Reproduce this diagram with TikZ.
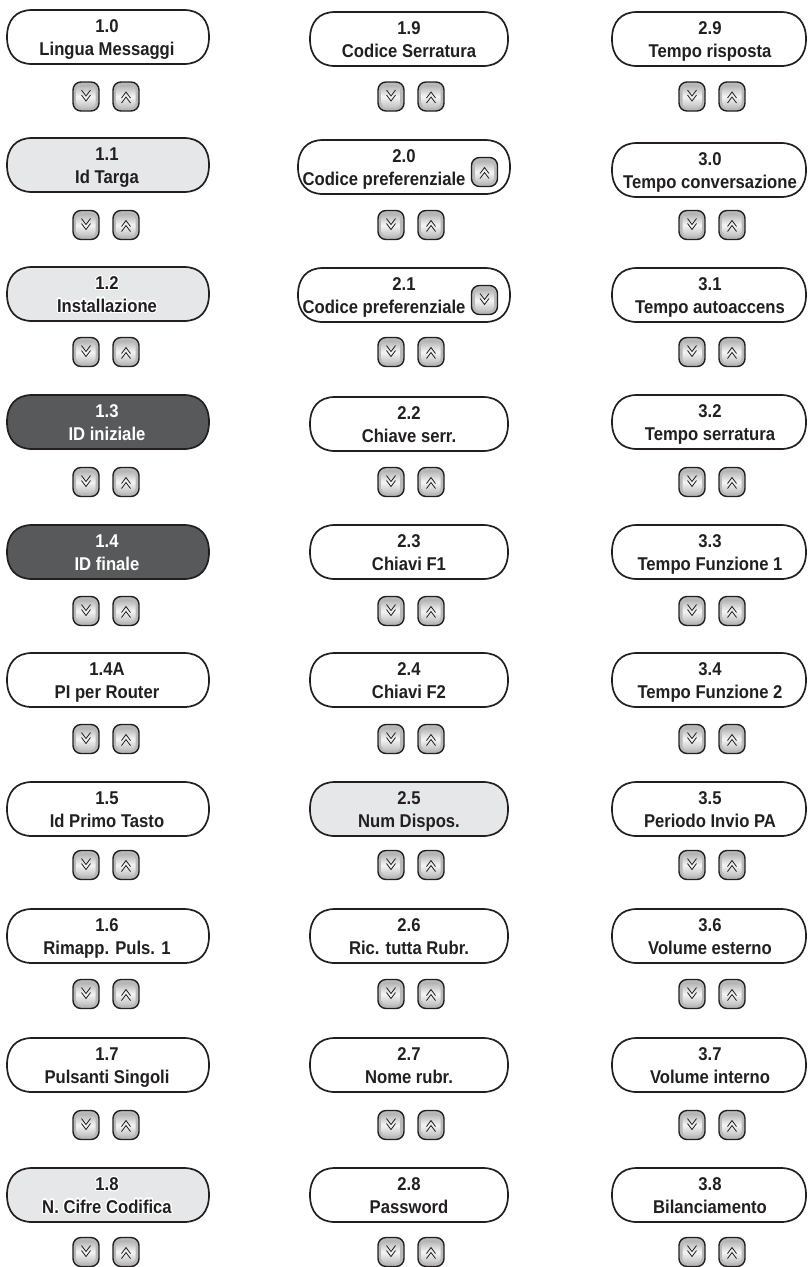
\documentclass[tikz,border=0pt]{standalone}
\usepackage{fontspec}
\setmainfont{Liberation Sans}[FakeStretch=0.9]
\usepackage{contour}
\contourlength{1.1pt}
\definecolor{ink}{HTML}{231F20}
\definecolor{lightfill}{HTML}{E6E7E8}
\definecolor{darkfill}{HTML}{58595B}
\tikzset{
  boxline/.style={draw=ink, line width=1.7pt},
  lbl/.style={align=center, inner sep=0pt, font=\fontsize{18.5}{22.5}\selectfont\bfseries},
  btnshape/.style={draw=ink, line width=1.4pt, rounded corners=8pt, minimum width=26pt, minimum height=29pt, inner sep=0pt, fill=gray!55},
  chev/.style={draw=ink, line width=0.8pt},
}
% #1 name, #2 x0, #3 x1, #4 top, #5 fill, #6 text colour, #7 line1, #8 line2, #9 text x
\newcommand\mbx[9]{%
  \draw[boxline, fill=#5] ({#2+25},#4) -- ({#3-25},#4)
    .. controls ({#3-9},#4) and (#3,{#4+10}) .. (#3,{#4+27})
    .. controls (#3,{#4+44}) and ({#3-9},{#4+54}) .. ({#3-25},{#4+54})
    -- ({#2+25},{#4+54})
    .. controls ({#2+9},{#4+54}) and (#2,{#4+44}) .. (#2,{#4+27})
    .. controls (#2,{#4+10}) and ({#2+9},#4) .. cycle;
  \node[lbl, text=#6] (#1) at (#9,{#4+29}) {\rule{0pt}{13.5pt}#7\\#8\rule[-4pt]{0pt}{4pt}};
}
% #1 name, #2 cx, #3 cy, #4 direction (1 down, -1 up)
\newcommand\mkbtn[4]{%
  \node[btnshape] (#1) at (#2,#3) {};
  \shade[rounded corners=5pt, top color=gray!60, bottom color=gray!50, middle color=gray!8]
    ({#2-9.5},{#3-11.5}) rectangle ({#2+9.5},{#3+11.5});
  \draw[chev] ({#2-4.5},{#3-6.5*(#4)}) -- (#2,{#3-0.5*(#4)}) -- ({#2+4.5},{#3-6.5*(#4)});
  \draw[chev] ({#2-4.5},{#3-1.5*(#4)}) -- (#2,{#3+4.5*(#4)}) -- ({#2+4.5},{#3-1.5*(#4)});
}
\newcommand\btnpair[4]{% #1 name, #2 left cx, #3 right cx, #4 cy
  \mkbtn{#1d}{#2}{#4}{1}
  \mkbtn{#1u}{#3}{#4}{-1}
}
\begin{document}
\begin{tikzpicture}[x=1pt,y=-1pt]
\useasboundingbox[fill=white] (0,0) rectangle (807,1267);
% ---------- column 1
\mbx{b10}{7}{209}{10}{white}{ink}{1.0}{Lingua Messaggi}{107}
\mbx{b11}{7}{209}{138}{lightfill}{ink}{1.1}{Id Targa}{107}
\mbx{b12}{7}{209}{267}{lightfill}{ink}{\contour{white}{1.2}}{\contour{white}{Installazione}}{107}
\mbx{b13}{7}{209}{395}{darkfill}{white}{1.3}{ID iniziale}{107}
\mbx{b14}{7}{209}{525}{darkfill}{white}{1.4}{ID finale}{107}
\mbx{b14A}{7}{209}{653}{white}{ink}{1.4A}{PI per Router}{107}
\mbx{b15}{7}{209}{782}{white}{ink}{1.5}{Id Primo Tasto}{107}
\mbx{b16}{7}{209}{909}{white}{ink}{1.6}{Rimapp. Puls. 1}{107}
\mbx{b17}{7}{209}{1038}{white}{ink}{1.7}{Pulsanti Singoli}{107}
\mbx{b18}{7}{209}{1168}{lightfill}{ink}{\contour{white}{1.8}}{\contour{white}{N. Cifre Codifica}}{107}
\btnpair{p10}{86}{126}{96.5}
\btnpair{p11}{86}{126}{225}
\btnpair{p12}{86}{126}{352}
\btnpair{p13}{86}{126}{482}
\btnpair{p14}{86}{126}{611}
\btnpair{p14A}{86}{126}{739}
\btnpair{p15}{86}{126}{865}
\btnpair{p16}{86}{126}{994}
\btnpair{p17}{86}{126}{1125}
\btnpair{p18}{86}{126}{1252}
% ---------- column 2
\mbx{b19}{310}{508}{12}{white}{ink}{1.9}{Codice Serratura}{409}
\mbx{b20}{298}{510}{140}{white}{ink}{\hspace*{40pt}2.0}{Codice preferenziale}{384}
\mkbtn{b20u}{484.5}{172}{-1}
\mbx{b21}{298}{510}{268}{white}{ink}{\hspace*{40pt}2.1}{Codice preferenziale}{384}
\mkbtn{b21d}{484.5}{300}{1}
\mbx{b22}{310}{508}{397}{white}{ink}{2.2}{Chiave serr.}{409}
\mbx{b23}{310}{508}{525}{white}{ink}{2.3}{Chiavi F1}{409}
\mbx{b24}{310}{508}{653}{white}{ink}{2.4}{Chiavi F2}{409}
\mbx{b25}{310}{508}{782}{lightfill}{ink}{2.5}{Num Dispos.}{409}
\mbx{b26}{310}{508}{909}{white}{ink}{2.6}{Ric. tutta Rubr.}{409}
\mbx{b27}{310}{508}{1038}{white}{ink}{2.7}{Nome rubr.}{409}
\mbx{b28}{310}{508}{1168}{white}{ink}{2.8}{Password}{409}
\btnpair{p19}{391}{431}{96.5}
\btnpair{p20}{391}{431}{225}
\btnpair{p21}{391}{431}{352}
\btnpair{p22}{391}{431}{482}
\btnpair{p23}{391}{431}{611}
\btnpair{p24}{391}{431}{739}
\btnpair{p25}{391}{431}{865}
\btnpair{p26}{391}{431}{994}
\btnpair{p27}{391}{431}{1125}
\btnpair{p28}{391}{431}{1252}
% ---------- column 3
\mbx{b29}{612}{806}{12}{white}{ink}{2.9}{Tempo risposta}{710}
\mbx{b30}{612}{806}{143}{white}{ink}{3.0}{Tempo conversazione}{710}
\mbx{b31}{612}{806}{268}{white}{ink}{3.1}{Tempo autoaccens}{710}
\mbx{b32}{612}{806}{395}{white}{ink}{3.2}{Tempo serratura}{710}
\mbx{b33}{612}{806}{525}{white}{ink}{3.3}{Tempo Funzione 1}{710}
\mbx{b34}{612}{806}{653}{white}{ink}{3.4}{Tempo Funzione 2}{710}
\mbx{b35}{612}{806}{782}{white}{ink}{3.5}{Periodo Invio PA}{710}
\mbx{b36}{612}{806}{909}{white}{ink}{3.6}{Volume esterno}{710}
\mbx{b37}{612}{806}{1038}{white}{ink}{3.7}{Volume interno}{710}
\mbx{b38}{612}{806}{1168}{white}{ink}{3.8}{Bilanciamento}{710}
\btnpair{p29}{692}{732}{96.5}
\btnpair{p30}{692}{732}{225}
\btnpair{p31}{692}{732}{352}
\btnpair{p32}{692}{732}{482}
\btnpair{p33}{692}{732}{611}
\btnpair{p34}{692}{732}{739}
\btnpair{p35}{692}{732}{865}
\btnpair{p36}{692}{732}{994}
\btnpair{p37}{692}{732}{1125}
\btnpair{p38}{692}{732}{1252}
\end{tikzpicture}
\end{document}
